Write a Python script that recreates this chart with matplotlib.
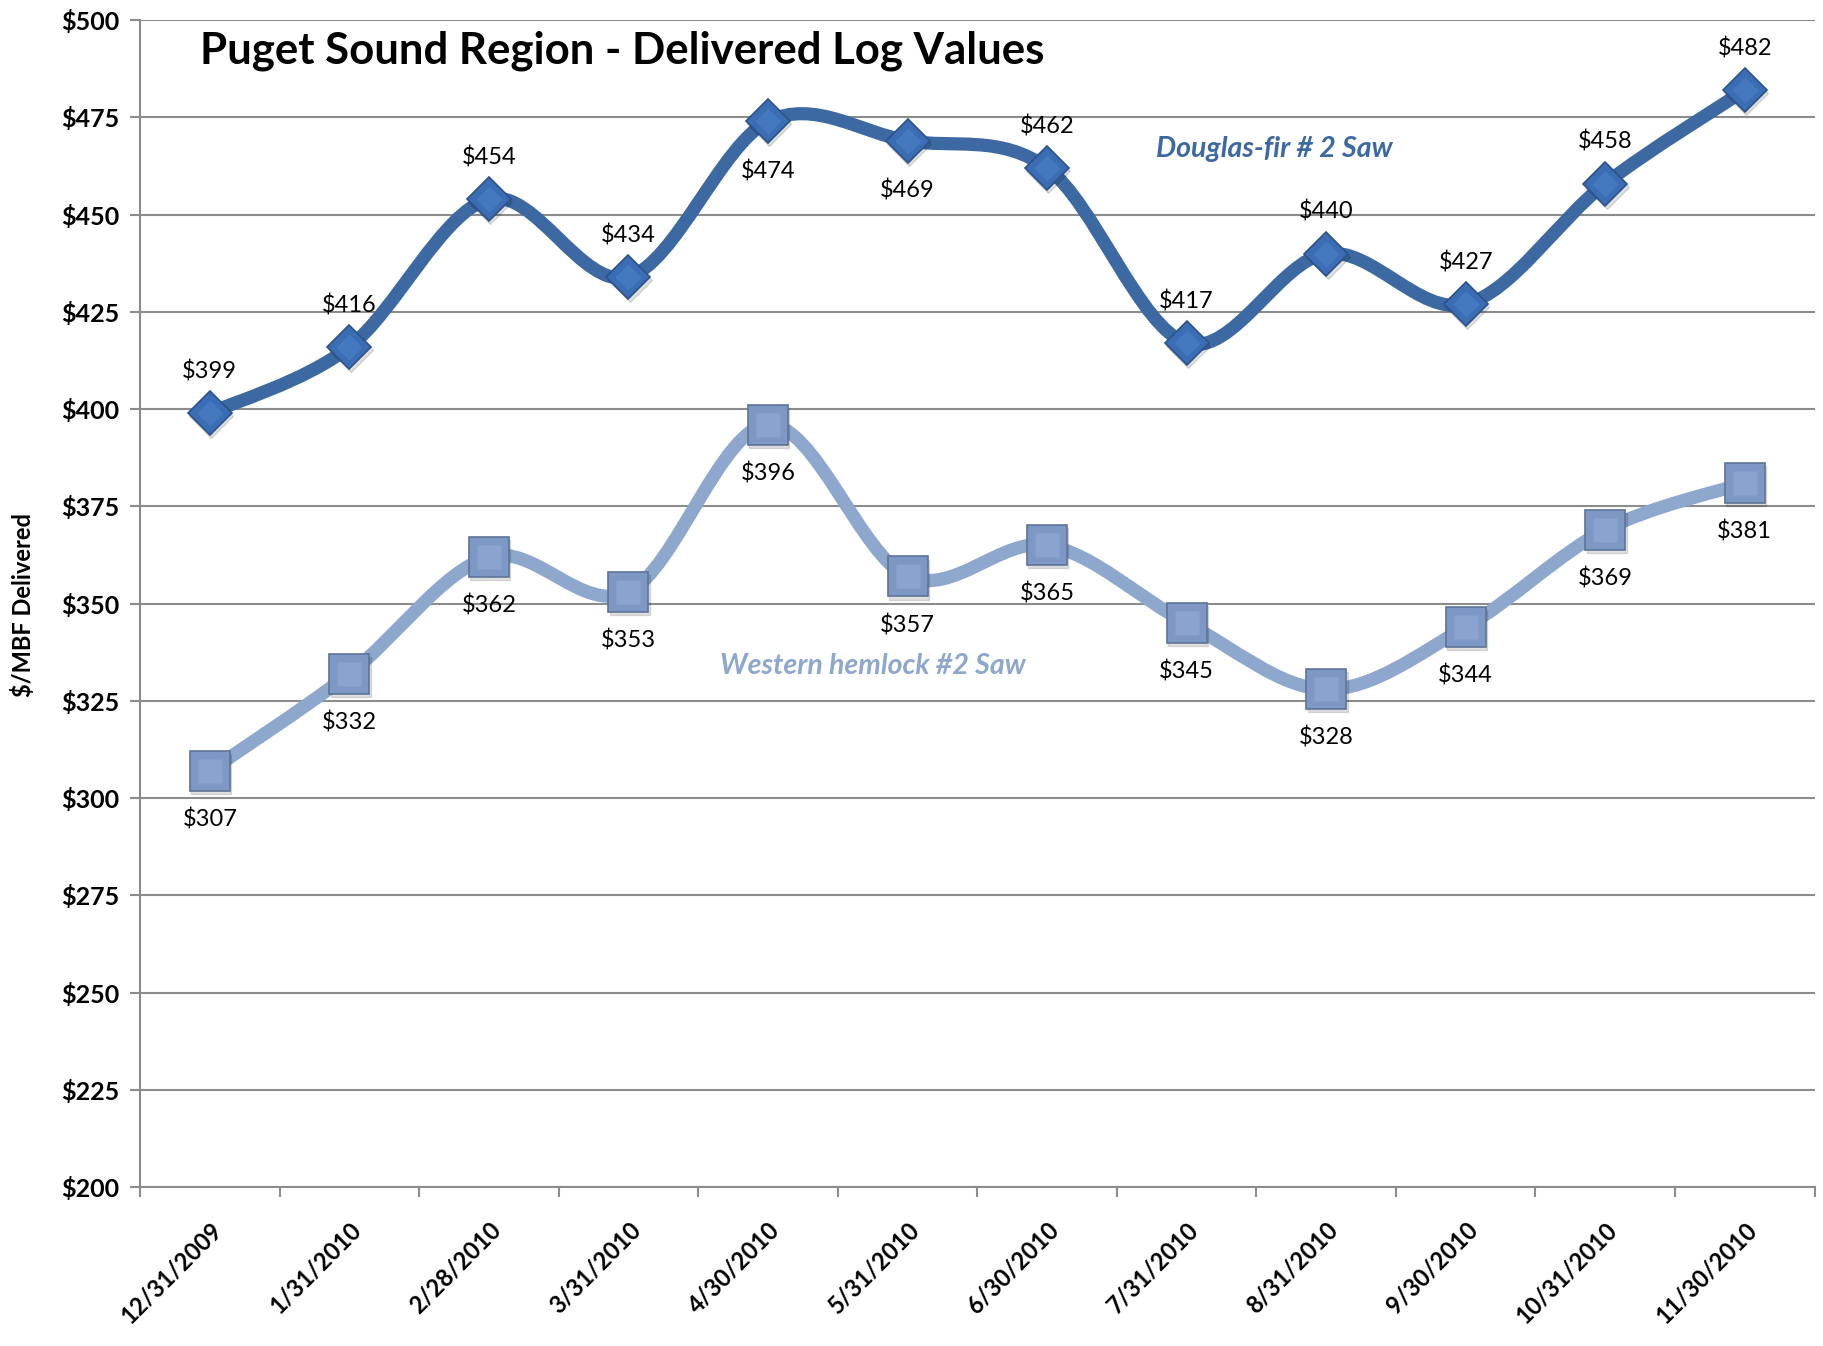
import numpy as np
import matplotlib
matplotlib.use("Agg")
import matplotlib.pyplot as plt
import matplotlib.transforms as mtransforms
from matplotlib.path import Path
from matplotlib.patches import PathPatch

plt.rcParams['font.family'] = ['Lato', 'DejaVu Sans']

dates = ["12/31/2009", "1/31/2010", "2/28/2010", "3/31/2010", "4/30/2010",
         "5/31/2010", "6/30/2010", "7/31/2010", "8/31/2010", "9/30/2010",
         "10/31/2010", "11/30/2010"]
douglas_fir = [399, 416, 454, 434, 474, 469, 462, 417, 440, 427, 458, 482]
western_hemlock = [307, 332, 362, 353, 396, 357, 365, 345, 328, 344, 369, 381]
# label placement for the fir series: +1 above the point, -1 below
fir_label_side = [1, 1, 1, 1, -1, -1, 1, 1, 1, 1, 1, 1]

FIR_COLOR = "#3D69A3"
HEM_COLOR = "#8DA7CD"


def smooth_path(xs, ys):
    # cubic bezier through every point, control points from neighbours
    pts = np.column_stack([xs, ys]).astype(float)
    verts = [pts[0]]
    codes = [Path.MOVETO]
    n = len(pts)
    for i in range(n - 1):
        p0 = pts[i - 1] if i > 0 else pts[i]
        p1 = pts[i]
        p2 = pts[i + 1]
        p3 = pts[i + 2] if i + 2 < n else pts[i + 1]
        c1 = p1 + (p2 - p0) / 6.0
        c2 = p2 - (p3 - p1) / 6.0
        verts += [c1, c2, p2]
        codes += [Path.CURVE4] * 3
    return Path(verts, codes)


def bevel_markers(ax, xs, ys, marker, size, color, edge, light):
    ax.plot(np.array(xs) + 0.01, np.array(ys) - 0.8, linestyle="none", marker=marker,
            markersize=size, color="#000000", alpha=0.12, zorder=4)
    ax.plot(xs, ys, linestyle="none", marker=marker, markersize=size,
            markerfacecolor=color, markeredgecolor=edge, markeredgewidth=1.2, zorder=5)
    ax.plot(xs, ys, linestyle="none", marker=marker, markersize=size * 0.6,
            markerfacecolor=light, markeredgecolor="none", alpha=0.6, zorder=6)


fig = plt.figure(figsize=(18.24, 13.46), dpi=100)
ax = fig.add_axes([0.0768, 0.118, 0.918, 0.867])

x = np.arange(len(dates))

ax.add_patch(PathPatch(smooth_path(x, douglas_fir), fill=False, edgecolor=FIR_COLOR,
                       linewidth=9.5, capstyle="round", joinstyle="round", zorder=3))
ax.add_patch(PathPatch(smooth_path(x, western_hemlock), fill=False, edgecolor=HEM_COLOR,
                       linewidth=9.5, capstyle="round", joinstyle="round", zorder=3))

bevel_markers(ax, x, douglas_fir, "D", 22, "#3A6DB4", "#2C5288", "#4C82C8")
bevel_markers(ax, x, western_hemlock, "s", 29, "#7E98C6", "#5E7396", "#94ACD6")

for xi, v, side in zip(x, douglas_fir, fir_label_side):
    off = 30 if side > 0 else -36
    ax.annotate(f"${v}", (xi, v), xytext=(0, off), textcoords="offset points",
                ha="center", va="center", fontsize=17, color="#000000")
for xi, v in zip(x, western_hemlock):
    ax.annotate(f"${v}", (xi, v), xytext=(0, -35), textcoords="offset points",
                ha="center", va="center", fontsize=17, color="#000000")

ax.set_xlim(-0.5, len(dates) - 0.5)
ax.set_ylim(200, 500)
ax.set_yticks(np.arange(200, 501, 25))
ax.set_yticklabels([f"${v}" for v in range(200, 501, 25)], fontsize=18, fontweight="bold")
ax.set_xticks(x)
ax.set_xticklabels(dates, rotation=45, ha="right", rotation_mode="anchor",
                   fontsize=17, fontweight="bold")
shift = mtransforms.ScaledTranslation(-7 / 100, 0, fig.dpi_scale_trans)
for lbl in ax.get_xticklabels():
    lbl.set_transform(lbl.get_transform() + shift)
ax.set_xticks(np.arange(-0.5, len(dates), 1), minor=True)
ax.tick_params(axis="x", which="major", length=0, pad=22)
ax.tick_params(axis="x", which="minor", length=7, width=1.5, color="#8C8C8C", direction="out")
ax.tick_params(axis="y", length=7, width=1.5, color="#8C8C8C", pad=8)

ax.grid(axis="y", color="#8C8C8C", linewidth=1.5, zorder=0)
ax.set_axisbelow(True)
for s in ["top", "right"]:
    ax.spines[s].set_visible(False)
for s in ["left", "bottom"]:
    ax.spines[s].set_color("#8C8C8C")
    ax.spines[s].set_linewidth(1.5)

fig.text(0.0128, 0.5505, "$/MBF Delivered", fontsize=17, fontweight="bold",
         rotation=90, ha="center", va="center")

fig.text(0.1096, 0.962, "Puget Sound Region - Delivered Log Values", fontsize=31.5,
         fontweight="bold", ha="left", va="center")
ax.text(7.625, 467, "Douglas-fir # 2 Saw", fontsize=20.5, fontweight="bold",
        fontstyle="italic", color=FIR_COLOR, ha="center", va="center")
ax.text(4.75, 334, "Western hemlock #2 Saw", fontsize=20.5, fontweight="bold",
        fontstyle="italic", color=HEM_COLOR, ha="center", va="center")

fig.savefig("out.png", dpi=100)
